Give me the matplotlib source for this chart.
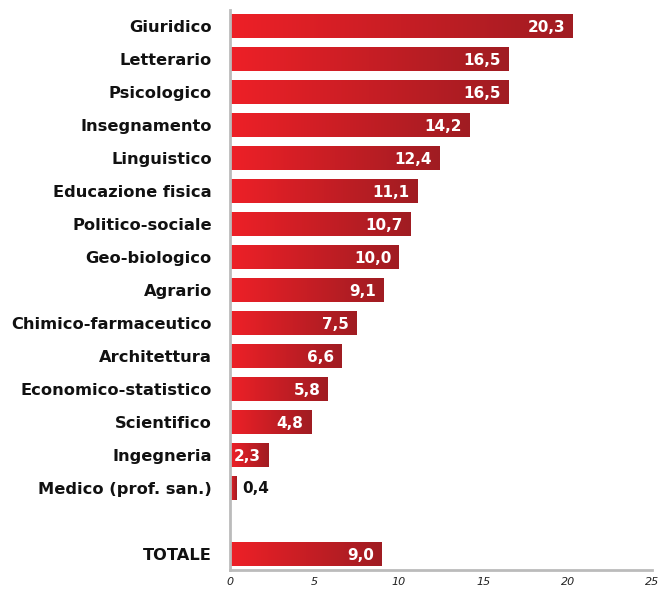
import numpy as np
import matplotlib
matplotlib.use("Agg")
import matplotlib.pyplot as plt
from matplotlib.colors import LinearSegmentedColormap

categories = ["Giuridico", "Letterario", "Psicologico", "Insegnamento", "Linguistico",
              "Educazione fisica", "Politico-sociale", "Geo-biologico", "Agrario",
              "Chimico-farmaceutico", "Architettura", "Economico-statistico",
              "Scientifico", "Ingegneria", "Medico (prof. san.)", "TOTALE"]
values = [20.3, 16.5, 16.5, 14.2, 12.4, 11.1, 10.7, 10.0, 9.1, 7.5, 6.6, 5.8, 4.8, 2.3, 0.4, 9.0]
xticks = [0, 5, 10, 15, 20, 25]

positions = list(range(15)) + [16]

fig = plt.figure(figsize=(6.6, 5.92), dpi=100)
ax = fig.add_axes([230/660, 1-570/592, 422/660, 560/592])

cmap = LinearSegmentedColormap.from_list("rg", ["#EE2027", "#A01C22"])
grad = np.linspace(0, 1, 256).reshape(1, -1)
h = 0.72
for p, v in zip(positions, values):
    ax.imshow(grad, extent=[0, v, p + h/2, p - h/2], aspect='auto', cmap=cmap,
              interpolation='bicubic', zorder=2)
    lbl = f"{v:.1f}".replace(".", ",")
    if v < 1:
        ax.text(v + 0.35, p, lbl, ha='left', va='center', color='#111111',
                fontsize=11, fontweight='bold', zorder=3)
    else:
        ax.text(v - 0.45, p + 0.03, lbl, ha='right', va='center', color='white',
                fontsize=11, fontweight='bold', zorder=3)

ax.set_xlim(0, 25)
ax.set_ylim(16.48, -0.5)
ax.set_yticks(positions)
ax.set_yticklabels(categories, fontsize=11.7, fontweight='bold', color='#111111')
ax.set_xticks(xticks)
ax.set_xticklabels([str(t) for t in xticks], fontsize=8, style='italic', color='#222222')
ax.tick_params(axis='y', length=0, pad=13)
ax.tick_params(axis='x', length=0, pad=5)
for s in ['top', 'right']:
    ax.spines[s].set_visible(False)
for s in ['left', 'bottom']:
    ax.spines[s].set_color('#BBBBBB')
    ax.spines[s].set_linewidth(2)

fig.savefig("out.png", dpi=100)
